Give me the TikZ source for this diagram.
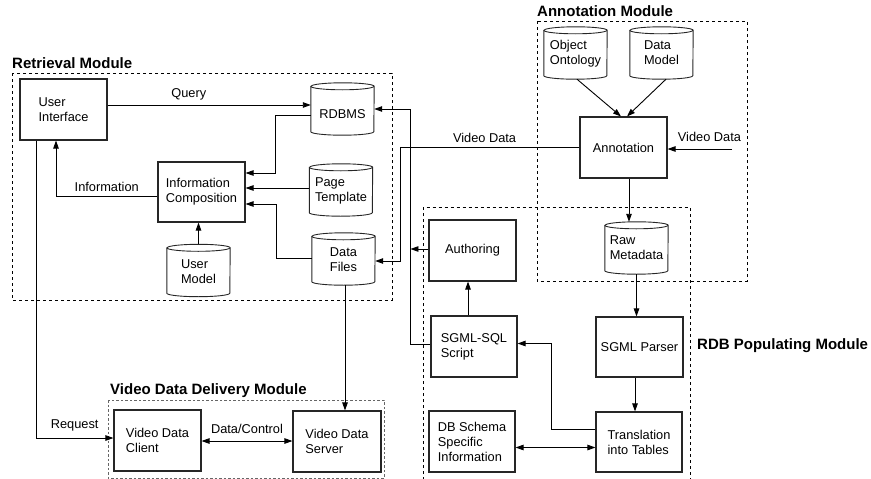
\documentclass[tikz,border=0pt]{standalone}
\usepackage{fontspec}
\setmainfont{Liberation Sans}
\usetikzlibrary{arrows.meta,calc}
\newcommand\cylout[1]{%
  \draw[cylline] ([yshift=-3.5pt]#1.north west) -- ([yshift=3.5pt]#1.south west)
    arc[start angle=180,end angle=360,x radius=31.5pt,y radius=3.5pt]
    -- ([yshift=-3.5pt]#1.north east)
    arc[start angle=0,end angle=180,x radius=31.5pt,y radius=3.5pt] -- cycle;
  \draw[cylline] ([yshift=-3.5pt]#1.north west)
    arc[start angle=180,end angle=360,x radius=31.5pt,y radius=3.5pt];}
\begin{document}
\begin{tikzpicture}[x=1pt,y=-1pt,
  font=\fontsize{12.8}{15}\selectfont,
  box/.style={draw=black!85, line width=1.1pt, inner sep=2pt, align=left},
  cyl/.style={minimum width=63pt, minimum height=52pt, inner sep=0pt},
  ctext/.style={align=left, inner sep=0pt},
  cylline/.style={line width=0.9pt, draw=black!85},
  conn/.style={line width=0.9pt},
  arr/.style={conn, -{Triangle[length=8pt,width=5.5pt]}},
  dbl/.style={conn, {Triangle[length=8pt,width=5.5pt]}-{Triangle[length=8pt,width=5.5pt]}},
  module/.style={dash pattern=on 3pt off 3pt, line width=0.9pt},
  mtitle/.style={font=\fontsize{15}{18}\selectfont\bfseries, anchor=west, inner sep=0pt}]
\useasboundingbox (0,0) rectangle (871,479);

% module frames
\draw[module] (12,73) rectangle (392,300);
\draw[module] (537,21) rectangle (747,281);
\draw[module] (423,480) -- (423,207.5) -- (690,207.5) -- (690,480);
\draw[module, draw=black!60, dash pattern=on 2.5pt off 2pt] (108,400) rectangle (384,478);

\node[mtitle] (rtitle) at (12,63) {Retrieval Module};
\node[mtitle] (atitle) at (537,11) {Annotation Module};
\node[mtitle] (vtitle) at (110,391) {Video Data Delivery Module};
\node[mtitle] (ptitle) at (697,346) {RDB Populating Module};

% boxes
\node[box, minimum width=87pt, minimum height=61pt] (ui) at (63.5,109.5) {User\\Interface};
\node[box, minimum width=87pt, minimum height=60pt] (infoc) at (201.5,192) {Information\\Composition};
\node[box, minimum width=87pt, minimum height=61pt] (annot) at (623.5,147.5) {Annotation};
\node[box, minimum width=87pt, minimum height=61pt] (author) at (472.5,250.5) {Authoring};
\node[box, minimum width=86pt, minimum height=61pt] (sgmlsql) at (474,346.5) {SGML-SQL\\Script};
\node[box, minimum width=87pt, minimum height=60pt] (sgmlp) at (639.5,347) {SGML Parser};
\node[box, minimum width=86pt, minimum height=60pt] (trans) at (639,442) {Translation\\into Tables};
\node[box, minimum width=86pt, minimum height=61pt] (dbschema) at (472,441.5) {DB Schema\\Specific\\Information};
\node[box, minimum width=87pt, minimum height=61pt] (vdc) at (157.5,440.5) {Video Data\\Client};
\node[box, minimum width=88pt, minimum height=61pt] (vds) at (337,441.5) {Video Data\\Server};

% cylinders
\node[cyl, label={[ctext,yshift=-5pt]center:RDBMS}] (rdbms) at (342.5,109) {};
\node[cyl, label={[ctext,yshift=-1pt]center:{Page\\Template}}] (ptemp) at (341,190) {};
\node[cyl, label={[ctext,yshift=-1pt]center:{User\\Model}}] (umodel) at (198.5,270.5) {};
\node[cyl, label={[ctext,yshift=-1pt]center:{Data\\Files}}] (dfiles) at (343.5,259) {};
\node[cyl, label={[ctext,yshift=-1pt]center:{Object\\Ontology}}] (oonto) at (575.5,53) {};
\node[cyl, label={[ctext,yshift=-0pt]center:{Data\\Model}}] (dmodel) at (661.5,53) {};
\node[cyl, label={[ctext,yshift=-0pt]center:{Raw\\Metadata}}] (rawmeta) at (636.5,248) {};
\cylout{rdbms}\cylout{ptemp}\cylout{umodel}\cylout{dfiles}
\cylout{oonto}\cylout{dmodel}\cylout{rawmeta}

\coordinate (bus) at ([xshift=-20pt]sgmlsql.west);
\coordinate (vin) at (732,149);

% retrieval module connectors
\draw[arr] ([yshift=4.5pt]ui.east) -- ([yshift=4.5pt]ui.east -| rdbms.west)
  node[pos=0.4, above=1pt] {Query};
\draw[arr] ([yshift=-6pt]rdbms.west) -- ++(-35,0) |- ([yshift=19pt]infoc.east);
\draw[arr] ([yshift=2pt]ptemp.west) -- ([yshift=2pt]ptemp.west -| infoc.east);
\draw[arr] ([yshift=1pt]dfiles.west) -- ++(-35,0) |- ([yshift=-12pt]infoc.east);
\draw[arr] ([yshift=-4pt]infoc.west) -| ([xshift=-7.5pt]ui.south)
  node[pos=0.25, above=1pt] {Information};
\draw[arr] (umodel.north) -- (umodel.north |- infoc.south);

% delivery
\draw[arr] ([xshift=-27.5pt]ui.south) |- ([yshift=2.5pt]vdc.west)
  node[pos=0.75, above=3pt] {Request};
\draw[arr] ([xshift=1.5pt]dfiles.south) -- ([xshift=1.5pt]dfiles.south |- vds.north);
\draw[dbl] ([yshift=-0.5pt]vdc.east) -- ([yshift=-0.5pt]vdc.east -| vds.west)
  node[midway, above=4pt] {Data/Control};

% populating / authoring
\draw[arr] ([yshift=2.5pt]sgmlsql.west) -- ([yshift=2.5pt]sgmlsql.west -| bus) |- (rdbms.east);
\draw[arr] ([yshift=1.5pt]author.west) -- ([yshift=1.5pt]author.west -| bus);
\draw[arr] (annot.west) -- ++(-179,0) node[pos=0.53, above=1pt] {Video Data}
  |- ([yshift=-2pt]dfiles.east);
\draw[arr] (vin) -- (vin -| annot.east) node[pos=0.35, above=4pt] {Video Data};
\draw[arr] ([xshift=1.5pt]oonto.south) -- ([xshift=-2.5pt]annot.north);
\draw[arr] ([xshift=4.5pt]dmodel.south) -- ([xshift=3.5pt]annot.north);
\draw[arr] ([xshift=5.5pt]annot.south) -- ([xshift=5.5pt]annot.south |- rawmeta.north);
\draw[arr] (rawmeta.south) -- (rawmeta.south |- sgmlp.north);
\draw[arr] ([xshift=-4.5pt]sgmlp.south) -- ([xshift=-4.5pt]sgmlp.south |- trans.north);
\draw[arr] ([yshift=13pt]trans.west) -- ++(-44,0) |- ([yshift=3pt]sgmlsql.east);
\draw[dbl] ([yshift=-6pt]dbschema.east) -- ([yshift=-6pt]dbschema.east -| trans.west);
\draw[arr] ([xshift=-6pt]sgmlsql.north) -- ([xshift=-6pt]sgmlsql.north |- author.south);
\end{tikzpicture}
\end{document}
